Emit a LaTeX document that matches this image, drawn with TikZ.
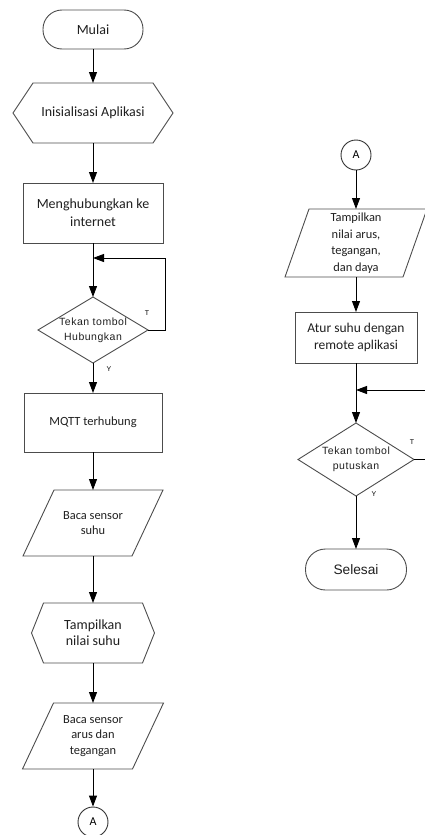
\documentclass[tikz,border=0pt]{standalone}
\usepackage{fontspec}
\setmainfont{Carlito}
\newfontfamily\arialf{Liberation Sans}
\newfontfamily\dfont[LetterSpace=5]{Liberation Sans}
\usetikzlibrary{arrows.meta,calc}
\begin{document}
\begin{tikzpicture}[x=1pt,y=-1pt,
  box/.style={draw=none, inner sep=0pt, outer sep=0pt, align=center, text=black!88, font=\fontsize{14}{18}\selectfont},
  shp/.style={draw=black!70, line width=0.9pt},
  term/.style={box, draw=black!70, line width=0.9pt},
  arr/.style={draw=black, line width=0.9pt, -{Triangle[length=11pt,width=8pt]}},
  lbl/.style={font=\arialf\fontsize{7}{8}\selectfont, inner sep=0pt},
  dtext/.style={font=\dfont\fontsize{10.5}{15}\selectfont},
  conn/.style={draw=black!80, line width=0.9pt, circle, minimum size=30pt, inner sep=0pt, font=\fontsize{12}{14}\selectfont},
]
\useasboundingbox (0,0) rectangle (425,835);
\clip (0,0) rectangle (425,835);

% ---------- left column ----------
\node[term, rounded corners=19pt, minimum width=100pt, minimum height=39pt] (mulai) at (93,29.5) {Mulai};

\node[box, minimum width=160pt, minimum height=60pt] (init) at (93,113) {Inisialisasi Aplikasi};
\draw[shp] (init.west) -- ([xshift=20pt]init.north west) -- ([xshift=-20pt]init.north east) -- (init.east) -- ([xshift=-20pt]init.south east) -- ([xshift=20pt]init.south west) -- cycle;

\node[box, draw=black!70, line width=0.9pt, minimum width=140pt, minimum height=60pt] (mh) at (93,213) {Menghubungkan ke\\internet};

\coordinate (j1) at (93,258);

\node[box, dtext, minimum width=110pt, minimum height=66pt] (d1) at (93,330) {Tekan tombol\\Hubungkan};
\draw[shp] (d1.north) -- (d1.east) -- (d1.south) -- (d1.west) -- cycle;

\node[box, draw=black!70, line width=0.9pt, minimum width=138pt, minimum height=59pt, font=\fontsize{12.5}{16}\selectfont] (mqtt) at (93,422.5) {MQTT terhubung};

\node[box, minimum width=140pt, minimum height=66pt, font=\fontsize{12.4}{15.5}\selectfont] (bs1) at (93,523) {Baca sensor\\suhu};
\draw[shp] ([xshift=31pt]bs1.north west) -- (bs1.north east) -- ([xshift=-31pt]bs1.south east) -- (bs1.south west) -- cycle;

\node[box, minimum width=123pt, minimum height=60pt, font=\fontsize{14}{16}\selectfont] (tp1) at (93,633) {Tampilkan\\nilai suhu};
\draw[shp] (tp1.west) -- ([xshift=12pt]tp1.north west) -- ([xshift=-12pt]tp1.north east) -- (tp1.east) -- ([xshift=-12pt]tp1.south east) -- ([xshift=12pt]tp1.south west) -- cycle;

\node[box, minimum width=141pt, minimum height=66pt, font=\fontsize{12.4}{15.5}\selectfont] (bs2) at (93,736) {Baca sensor\\arus dan\\tegangan};
\draw[shp] ([xshift=31pt]bs2.north west) -- (bs2.north east) -- ([xshift=-31pt]bs2.south east) -- (bs2.south west) -- cycle;

\node[conn] (a1) at (93,822) {A};

\draw[arr] (mulai) -- (init);
\draw[arr] (init) -- (mh);
\draw[arr] (mh) -- (d1);
\draw[arr] (d1.east) -- ++(17pt,0) |- (j1);
\draw[arr] (d1) -- (mqtt);
\draw[arr] (mqtt) -- (bs1);
\draw[arr] (bs1) -- (tp1);
\draw[arr] (tp1) -- (bs2);
\draw[arr] (bs2) -- (a1);

\node[lbl] (t1) at (147,313) {T};
\node[lbl] (y1) at (109,369) {Y};

% ---------- right column ----------
\node[conn] (a2) at (356,155) {A};

\node[box, minimum width=142pt, minimum height=68pt, font=\fontsize{12.4}{16.5}\selectfont] (tp2) at (356,243) {Tampilkan\\nilai arus,\\tegangan,\\dan daya};
\draw[shp] ([xshift=24pt]tp2.north west) -- (tp2.north east) -- ([xshift=-24pt]tp2.south east) -- (tp2.south west) -- cycle;

\node[box, draw=black!70, line width=0.9pt, minimum width=122pt, minimum height=51pt, font=\fontsize{13.5}{17}\selectfont] (atur) at (356,337.5) {Atur suhu dengan\\remote aplikasi};

\coordinate (j2) at (356,390);

\node[box, dtext, minimum width=116pt, minimum height=73pt] (d2) at (356,459.5) {Tekan tombol\\putuskan};
\draw[shp] (d2.north) -- (d2.east) -- (d2.south) -- (d2.west) -- cycle;

\node[term, rounded corners=20pt, minimum width=101pt, minimum height=41pt, font=\arialf\fontsize{13.7}{16}\selectfont] (selesai) at (356,569.5) {Selesai};

\draw[arr] (a2) -- (tp2);
\draw[arr] (tp2) -- (atur);
\draw[arr] (atur) -- (d2);
\draw[arr] (d2.east) -- ++(20pt,0) |- (j2);
\draw[arr] (d2) -- (selesai);

\node[lbl] (t2) at (412,442) {T};
\node[lbl] (y2) at (374,494) {Y};
\end{tikzpicture}
\end{document}
